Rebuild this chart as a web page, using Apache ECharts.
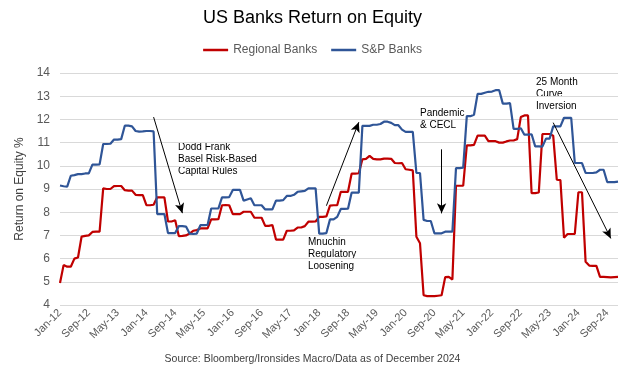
<!DOCTYPE html>
<html>
<head>
<meta charset="utf-8">
<script src="https://cdn.jsdelivr.net/npm/echarts@6/dist/echarts.min.js"></script>
<style>
html,body{margin:0;padding:0;background:#fff;}
#chart{width:625px;height:371px;}
</style>
</head>
<body>
<div id="chart"></div>
<script>
// Month names and years used to build the monthly categories Jan-12 .. Dec-24
const monthNames = ['Jan','Feb','Mar','Apr','May','Jun','Jul','Aug','Sep','Oct','Nov','Dec'];
const yearLabels = ['12','13','14','15','16','17','18','19','20','21','22','23','24'];

// Regional Banks ROE (%), monthly
const regionalBanks = [
  4.95,5.72,5.65,5.65,6.0,6.05,6.95,6.98,7.0,7.15,7.16,7.16,
  9.03,9.0,9.0,9.12,9.13,9.13,8.95,8.93,8.93,8.75,8.74,8.74,
  8.3,8.3,8.32,8.64,8.64,8.64,7.6,7.6,7.65,6.97,6.98,7.0,
  7.08,7.2,7.23,7.3,7.3,7.3,7.69,7.69,7.7,8.3,8.31,8.3,
  7.92,7.92,7.92,8.02,8.02,8.02,7.76,7.76,7.76,7.41,7.41,7.45,
  6.82,6.82,6.82,7.2,7.2,7.22,7.34,7.34,7.4,7.59,7.59,7.6,
  7.8,7.8,7.82,8.28,8.3,8.3,8.88,8.88,8.88,9.66,9.66,9.68,
  10.28,10.3,10.43,10.3,10.28,10.28,10.31,10.31,10.3,10.12,10.11,10.12,
  9.85,9.83,9.8,6.94,6.66,4.42,4.38,4.38,4.38,4.4,4.42,5.2,
  5.21,5.1,9.14,9.14,9.14,10.88,10.88,10.9,11.3,11.3,11.3,11.06,
  11.06,11.06,11.0,11.0,11.05,11.09,11.09,11.15,12.1,12.17,12.17,8.82,
  8.82,8.85,11.37,11.37,11.37,11.3,9.4,9.38,6.9,7.06,7.06,7.06,
  8.86,8.86,5.86,5.7,5.69,5.69,5.21,5.21,5.2,5.19,5.2,5.21
];

// S&P Banks ROE (%), monthly
const spBanks = [
  9.15,9.12,9.1,9.57,9.6,9.64,9.64,9.67,9.67,10.05,10.05,10.06,
  10.94,10.94,10.95,11.13,11.13,11.15,11.73,11.73,11.7,11.5,11.47,11.48,
  11.5,11.5,11.48,7.92,7.92,7.92,7.1,7.1,7.1,7.4,7.4,7.38,
  7.08,7.06,7.08,7.44,7.44,7.45,8.16,8.16,8.16,8.64,8.64,8.65,
  8.96,8.96,8.96,8.5,8.55,8.6,8.3,8.3,8.3,8.12,8.12,8.12,
  8.5,8.5,8.52,8.7,8.7,8.75,8.88,8.9,8.92,9.03,9.03,9.03,
  7.08,7.08,7.1,7.69,7.69,7.8,8.14,8.14,8.15,8.84,8.84,8.84,
  11.72,11.72,11.72,11.77,11.77,11.8,11.9,11.9,11.85,11.75,11.75,11.56,
  11.46,11.46,11.46,9.69,9.69,7.67,7.62,7.62,7.09,7.09,7.09,7.16,
  7.16,7.16,9.9,9.9,9.92,12.14,12.14,12.2,13.1,13.1,13.15,13.19,
  13.2,13.26,13.26,12.68,12.68,12.7,11.59,11.59,11.62,11.34,11.34,11.36,
  10.84,10.84,10.83,11.17,11.17,11.7,11.7,11.7,12.07,12.07,12.07,10.12,
  10.12,10.12,9.69,9.69,9.69,9.72,9.83,9.83,9.3,9.3,9.3,9.32
];

// Annotation arrows: [startMonthIndex, startValue, endMonthIndex, endValue]
const arrows = [
  [26, 12.1, 34, 7.96],
  [74, 8.28, 83, 11.88],
  [106, 10.71, 106, 7.95],
  [137, 11.86, 153, 6.87]
];
const notes = [
  ['Dodd Frank', 'Basel Risk-Based', 'Capital Rules'],
  ['Mnuchin', 'Regulatory', 'Loosening'],
  ['Pandemic', '& CECL'],
  ['25 Month', 'Curve', 'Inversion']
];

const categories = [];
yearLabels.forEach(y => monthNames.forEach(m => categories.push(m + '-' + y)));

const FONT = '"Liberation Sans", Arial, sans-serif';
const chart = echarts.init(document.getElementById('chart'), null, {renderer: 'canvas'});

const notePos = [[178, 142], [308, 237], [420, 108], [536, 77]];
const LINE_H = 12;

const noteGraphics = [];
notes.forEach((lines, i) => {
  lines.forEach((line, j) => {
    noteGraphics.push({
      type: 'text',
      left: notePos[i][0],
      top: notePos[i][1] + j * LINE_H,
      silent: true,
      style: {text: line, fontFamily: FONT, fontSize: 10, fill: '#000'}
    });
  });
});

chart.setOption({
  animation: false,
  backgroundColor: '#fff',
  textStyle: {fontFamily: FONT},
  title: {
    text: 'US Banks Return on Equity',
    left: 'center',
    top: 4,
    textStyle: {fontFamily: FONT, fontSize: 18, fontWeight: 'normal', color: '#000'}
  },
  legend: {
    top: 39,
    left: 'center',
    icon: 'rect',
    itemWidth: 25,
    itemHeight: 2.5,
    itemGap: 14,
    textStyle: {fontFamily: FONT, fontSize: 12, color: '#595959'},
    data: ['Regional Banks', 'S&P Banks']
  },
  grid: {left: 60, right: 7, top: 73, bottom: 66, containLabel: false},
  xAxis: {
    type: 'category',
    data: categories,
    boundaryGap: false,
    axisLine: {show: false},
    axisTick: {show: false},
    axisLabel: {interval: 7, rotate: 45, fontFamily: FONT, fontSize: 11, color: '#595959', margin: 6}
  },
  yAxis: {
    type: 'value',
    min: 4, max: 14, interval: 1,
    name: 'Return on Equity %',
    nameLocation: 'middle',
    nameRotate: 90,
    nameGap: 32,
    nameTextStyle: {fontFamily: FONT, fontSize: 12, color: '#404040'},
    axisLine: {show: false},
    axisTick: {show: false},
    axisLabel: {fontFamily: FONT, fontSize: 12, color: '#595959', margin: 10},
    splitLine: {lineStyle: {color: '#D9D9D9', width: 1}}
  },
  series: [
    {
      name: 'Regional Banks',
      type: 'line',
      data: regionalBanks,
      showSymbol: false,
      itemStyle: {color: '#C00000'},
      lineStyle: {color: '#C00000', width: 2.2},
      markLine: {
        silent: true,
        symbol: ['none', 'arrow'],
        symbolSize: [7, 10],
        label: {show: false},
        lineStyle: {color: '#000', width: 1, type: 'solid'},
        data: arrows.map(a => [{coord: [a[0], a[1]]}, {coord: [a[2], a[3]]}])
      }
    },
    {
      name: 'S&P Banks',
      type: 'line',
      data: spBanks,
      showSymbol: false,
      itemStyle: {color: '#2F5597'},
      lineStyle: {color: '#2F5597', width: 2.2}
    }
  ],
  graphic: noteGraphics.concat([{
    type: 'text',
    left: 'center',
    top: 354,
    silent: true,
    style: {text: 'Source: Bloomberg/Ironsides Macro/Data as of December 2024', fontFamily: FONT, fontSize: 10.5, fill: '#404040'}
  }])
});
</script>
</body>
</html>
